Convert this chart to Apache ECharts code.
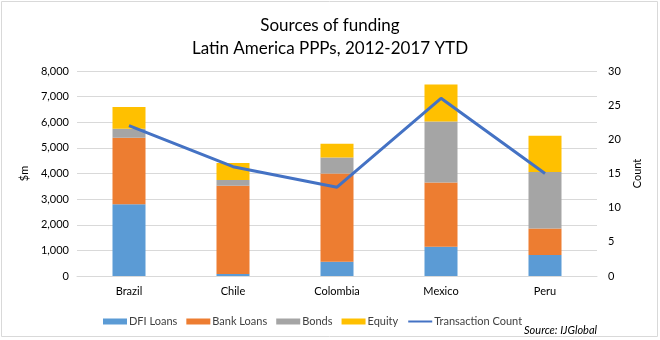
<!DOCTYPE html>
<html><head><meta charset="utf-8">
<script src="https://cdn.jsdelivr.net/npm/echarts@6/dist/echarts.min.js"></script>
<style>html,body{margin:0;padding:0;background:#fff}#c{width:660px;height:340px}</style>
</head><body><div id="c"></div>
<script>
const categories = ['Brazil', 'Chile', 'Colombia', 'Mexico', 'Peru'];
const dfiLoans  = [2800, 80, 560, 1140, 820];
const bankLoans = [2600, 3440, 3440, 2510, 1030];
const bonds     = [350, 230, 620, 2380, 2210];
const equity    = [850, 660, 540, 1440, 1410];
const transactionCount = [22, 16, 13, 26, 15];
const leftTicks = [0, 1000, 2000, 3000, 4000, 5000, 6000, 7000, 8000];
const rightTicks = [0, 5, 10, 15, 20, 25, 30];

const FONT = 'Lato';
const chart = echarts.init(document.getElementById('c'), null, {renderer: 'canvas'});
const barSeries = (name, data, color) => ({
  name, type: 'bar', stack: 'total', data, barWidth: 33,
  itemStyle: {color}, yAxisIndex: 0
});
chart.setOption({
  animation: false,
  textStyle: {fontFamily: FONT},
  graphic: [{
    type: 'rect', shape: {x: 1.5, y: 1.5, width: 656, height: 335},
    style: {fill: 'none', stroke: '#d9d9d9', lineWidth: 1}, silent: true
  }, {
    type: 'text', right: 63, top: 325,
    style: {text: 'Source: IJGlobal', font: 'italic 11px ' + FONT, fill: '#000'}
  }],
  title: {
    text: 'Sources of funding\nLatin America PPPs, 2012-2017 YTD',
    left: 'center', top: 9,
    textStyle: {fontFamily: FONT, fontSize: 17, fontWeight: 'normal', color: '#000', lineHeight: 23}
  },
  legend: {
    left: 98, top: 311, itemWidth: 24, itemHeight: 6, itemGap: 9,
    textStyle: {fontFamily: FONT, fontSize: 11, color: '#404040', padding: [0, 0, 0, -3]},
    data: [
      {name: 'DFI Loans', icon: 'rect'},
      {name: 'Bank Loans', icon: 'rect'},
      {name: 'Bonds', icon: 'rect'},
      {name: 'Equity', icon: 'rect'},
      {name: 'Transaction Count', itemStyle: {opacity: 0}}
    ]
  },
  grid: {left: 77, right: 63, top: 71, bottom: 64},
  xAxis: {
    type: 'category', data: categories,
    axisLine: {lineStyle: {color: '#d9d9d9'}},
    axisTick: {show: false},
    axisLabel: {color: '#000', fontSize: 11, margin: 10, fontFamily: FONT}
  },
  yAxis: [{
    type: 'value', min: leftTicks[0], max: leftTicks[leftTicks.length - 1], interval: 1000,
    name: '$m', nameLocation: 'middle', nameGap: 42, nameRotate: 90,
    nameTextStyle: {color: '#000', fontSize: 11, fontFamily: FONT},
    axisLabel: {color: '#000', fontSize: 11, fontFamily: FONT,
      formatter: v => v.toLocaleString('en-US')},
    splitLine: {lineStyle: {color: '#d9d9d9'}},
    axisLine: {show: false}, axisTick: {show: false}
  }, {
    type: 'value', min: rightTicks[0], max: rightTicks[rightTicks.length - 1], interval: 5,
    name: 'Count', nameLocation: 'middle', nameGap: 27, nameRotate: 90,
    nameTextStyle: {color: '#000', fontSize: 11, fontFamily: FONT},
    axisLabel: {color: '#000', fontSize: 11, fontFamily: FONT, margin: 11},
    splitLine: {show: false},
    axisLine: {show: false}, axisTick: {show: false}
  }],
  series: [
    barSeries('DFI Loans', dfiLoans, '#5b9bd5'),
    barSeries('Bank Loans', bankLoans, '#ed7d31'),
    barSeries('Bonds', bonds, '#a5a5a5'),
    barSeries('Equity', equity, '#ffc000'),
    {
      name: 'Transaction Count', type: 'line', yAxisIndex: 1, data: transactionCount,
      symbol: 'none', lineStyle: {color: '#4472c4', width: 3}, itemStyle: {color: '#4472c4'}
    }
  ]
});
</script></body></html>
